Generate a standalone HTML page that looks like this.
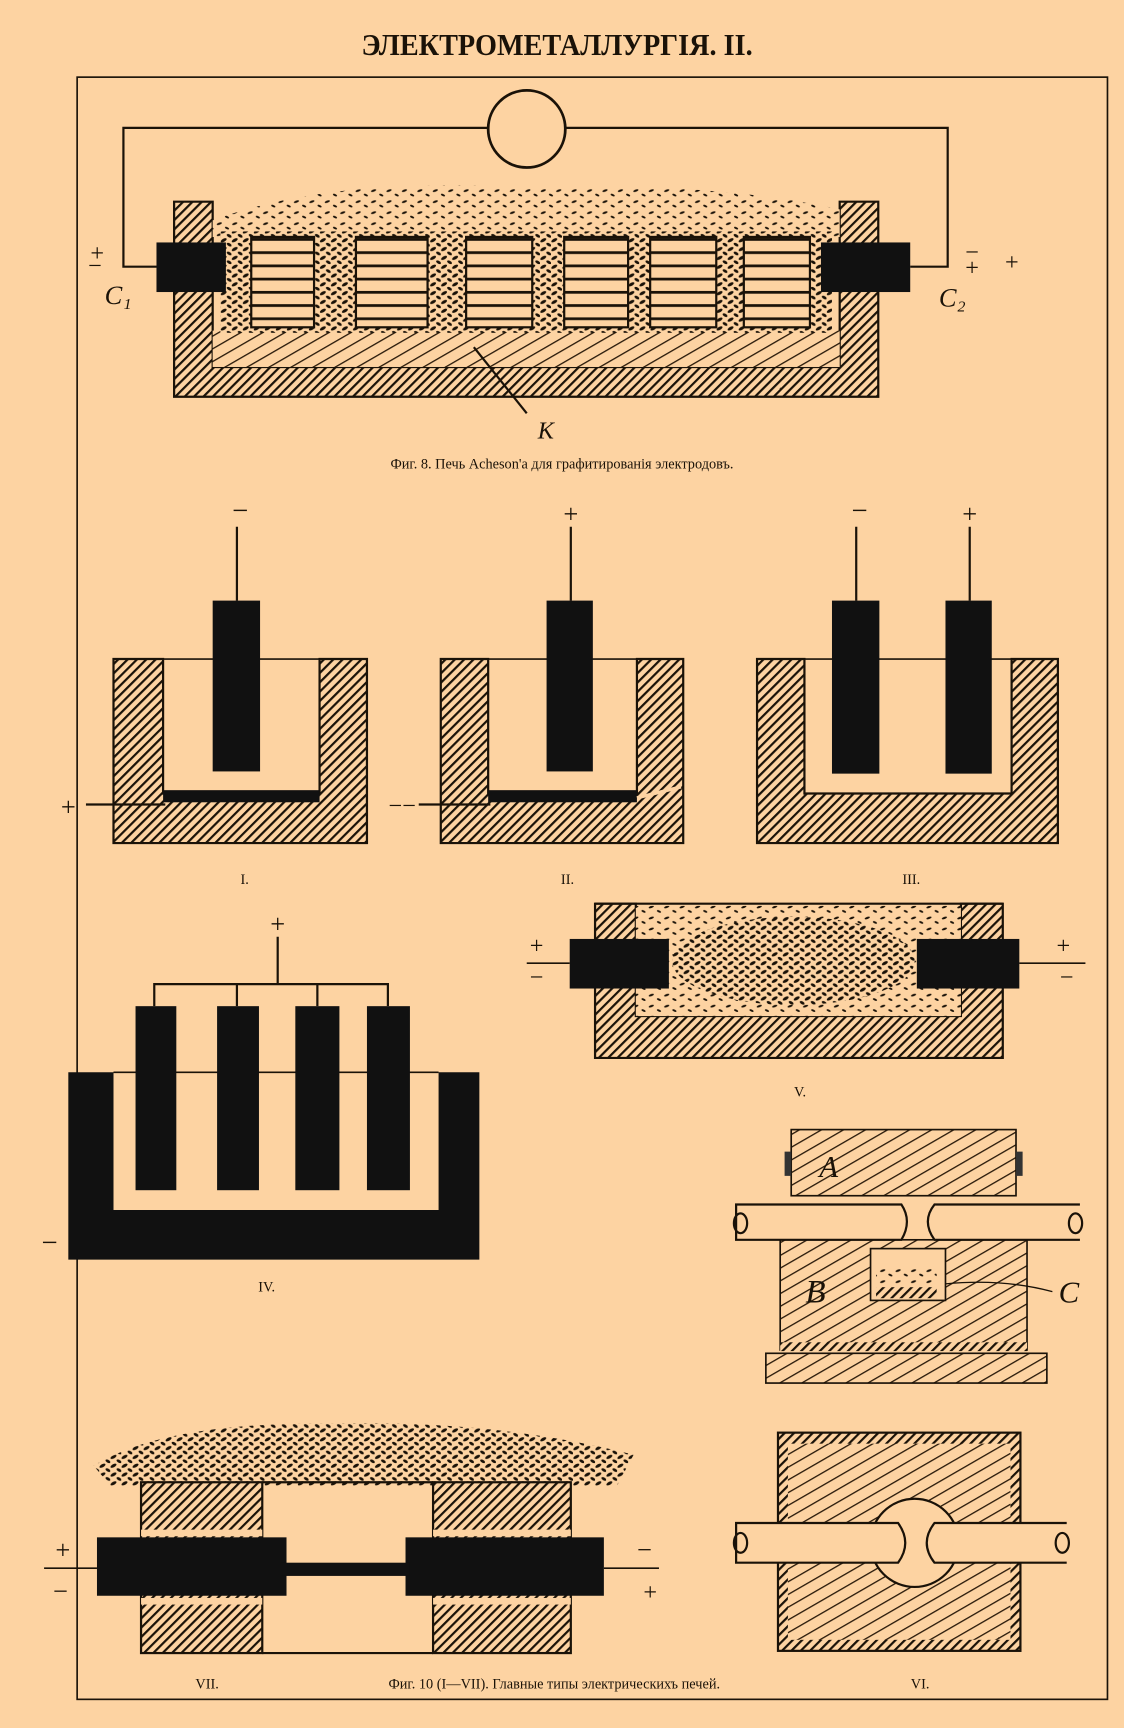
<!DOCTYPE html>
<html><head><meta charset="utf-8"><style>
html,body{margin:0;padding:0;background:#fdd3a2;}
svg{display:block;}
text{font-family:"Liberation Serif","DejaVu Serif",serif;fill:#1a1208;}
</style></head><body>
<svg width="1124" height="1728" viewBox="0 0 1020 1568" preserveAspectRatio="none" xmlns="http://www.w3.org/2000/svg">
<defs>
<pattern id="h" width="6" height="6" patternUnits="userSpaceOnUse" patternTransform="rotate(45)">
<rect width="6" height="6" fill="#fdd3a2"/><rect width="2" height="6" fill="#1a1208"/></pattern>
<pattern id="hl" width="10" height="10" patternUnits="userSpaceOnUse" patternTransform="rotate(60)">
<rect width="10" height="10" fill="#fdd3a2"/><rect width="1.2" height="10" fill="#2a1a0a"/></pattern>
<pattern id="st" width="10" height="12" patternUnits="userSpaceOnUse">
<rect width="10" height="12" fill="#fdd3a2"/><rect y="0" width="10" height="2.5" fill="#1a1208"/></pattern>
<pattern id="dots" width="14" height="10" patternUnits="userSpaceOnUse">
<rect width="14" height="10" fill="#fdd3a2"/><ellipse cx="3" cy="3" rx="2.5" ry="1" fill="#1a1208" transform="rotate(-20 3 3)"/><ellipse cx="10" cy="7" rx="2" ry="0.9" fill="#1a1208" transform="rotate(25 10 7)"/></pattern>
<pattern id="dense" width="10" height="8" patternUnits="userSpaceOnUse">
<rect width="10" height="8" fill="#fdd3a2"/><ellipse cx="3" cy="2" rx="3" ry="1.4" fill="#1a1208" transform="rotate(-30 3 2)"/><ellipse cx="8" cy="6" rx="2.5" ry="1.3" fill="#1a1208" transform="rotate(30 8 6)"/></pattern>
</defs>
<rect width="1020" height="1568" fill="#fdd3a2"/>
<text x="328" y="50" font-size="28" font-weight="bold" textLength="355" lengthAdjust="spacingAndGlyphs" font-family="Liberation Sans Narrow, Liberation Sans, sans-serif">ЭЛЕКТРОМЕТАЛЛУРГІЯ.  II.</text>
<rect x="70" y="70" width="935" height="1472" fill="none" stroke="#1a1208" stroke-width="1.5"/>

<!-- Fig 8 -->
<path d="M142 242 H112 V116 H443 M513 116 H860 V242 H826" fill="none" stroke="#1a1208" stroke-width="2"/>
<circle cx="478" cy="117" r="35" fill="#fdd3a2" stroke="#1a1208" stroke-width="2.5"/>
<path d="M158 183 H193 V333 H762 V183 H797 V360 H158 Z" fill="url(#h)" stroke="#1a1208" stroke-width="2"/>
<rect x="193" y="300" width="569" height="33" fill="url(#hl)"/>
<path d="M193 200 Q300 160 480 170 Q650 165 762 190 V215 H193 Z" fill="url(#dots)"/>
<rect x="200" y="210" width="555" height="92" fill="url(#dense)"/>
<g fill="url(#st)" stroke="#1a1208" stroke-width="2">
<rect x="228" y="215" width="57" height="82"/><rect x="323" y="215" width="65" height="82"/>
<rect x="423" y="215" width="60" height="82"/><rect x="512" y="215" width="58" height="82"/>
<rect x="590" y="215" width="60" height="82"/><rect x="675" y="215" width="60" height="82"/></g>
<rect x="142" y="220" width="63" height="45" fill="#111"/>
<rect x="745" y="220" width="81" height="45" fill="#111"/>
<path d="M430 315 L478 375" stroke="#1a1208" stroke-width="2"/>
<text x="488" y="398" font-size="22" font-style="italic">K</text>
<text x="82" y="237" font-size="22">+</text><text x="80" y="248" font-size="22">−</text>
<text x="95" y="276" font-size="24" font-style="italic">C₁</text>
<text x="876" y="250" font-size="22">+</text><text x="876" y="236" font-size="22">−</text>
<text x="912" y="245" font-size="22">+</text>
<text x="852" y="278" font-size="24" font-style="italic">C₂</text>
<text x="510" y="425" font-size="13" text-anchor="middle" font-family="Liberation Sans">Фиг. 8. Печь Acheson'a для графитированія электродовъ.</text>

<!-- I -->
<path d="M103 598 H148 V720 H290 V598 H333 V765 H103 Z" fill="url(#h)" stroke="#1a1208" stroke-width="2"/>
<rect x="148" y="717" width="142" height="11" fill="#111"/>
<line x1="78" y1="730" x2="150" y2="730" stroke="#1a1208" stroke-width="2"/>
<line x1="148" y1="598" x2="290" y2="598" stroke="#1a1208" stroke-width="1.5"/>
<rect x="193" y="545" width="43" height="155" fill="#111"/>
<line x1="215" y1="478" x2="215" y2="545" stroke="#1a1208" stroke-width="2"/>
<text x="218" y="472" font-size="26" text-anchor="middle">−</text>
<text x="62" y="740" font-size="24" text-anchor="middle">+</text>
<text x="222" y="802" font-size="13" text-anchor="middle">I.</text>
<!-- II -->
<path d="M400 598 H443 V720 H578 V598 H620 V765 H400 Z" fill="url(#h)" stroke="#1a1208" stroke-width="2"/>
<rect x="443" y="717" width="135" height="11" fill="#111"/>
<line x1="578" y1="724" x2="618" y2="714" stroke="#fdd3a2" stroke-width="3"/>
<line x1="380" y1="730" x2="445" y2="730" stroke="#1a1208" stroke-width="2"/>
<line x1="443" y1="598" x2="578" y2="598" stroke="#1a1208" stroke-width="1.5"/>
<rect x="496" y="545" width="42" height="155" fill="#111"/>
<line x1="518" y1="478" x2="518" y2="545" stroke="#1a1208" stroke-width="2"/>
<text x="518" y="474" font-size="24" text-anchor="middle">+</text>
<text x="365" y="738" font-size="22" text-anchor="middle">−−</text>
<text x="515" y="802" font-size="13" text-anchor="middle">II.</text>
<!-- III -->
<path d="M687 598 H730 V720 H918 V598 H960 V765 H687 Z" fill="url(#h)" stroke="#1a1208" stroke-width="2"/>
<line x1="730" y1="598" x2="918" y2="598" stroke="#1a1208" stroke-width="1.5"/>
<rect x="755" y="545" width="43" height="157" fill="#111"/>
<rect x="858" y="545" width="42" height="157" fill="#111"/>
<line x1="777" y1="478" x2="777" y2="545" stroke="#1a1208" stroke-width="2"/>
<line x1="880" y1="478" x2="880" y2="545" stroke="#1a1208" stroke-width="2"/>
<text x="780" y="472" font-size="26" text-anchor="middle">−</text>
<text x="880" y="474" font-size="24" text-anchor="middle">+</text>
<text x="827" y="802" font-size="13" text-anchor="middle">III.</text>

<!-- IV -->
<path d="M62 973 H103 V1098 H398 V973 H435 V1143 H62 Z" fill="#111"/>
<line x1="103" y1="973" x2="398" y2="973" stroke="#1a1208" stroke-width="1.5"/>
<path d="M140 913 V893 H352 V913 M215 893 V913 M288 893 V913 M252 893 V850" fill="none" stroke="#1a1208" stroke-width="2"/>
<rect x="123" y="913" width="37" height="167" fill="#111"/>
<rect x="197" y="913" width="38" height="167" fill="#111"/>
<rect x="268" y="913" width="40" height="167" fill="#111"/>
<rect x="333" y="913" width="39" height="167" fill="#111"/>
<text x="252" y="846" font-size="24" text-anchor="middle">+</text>
<text x="45" y="1136" font-size="26" text-anchor="middle">−</text>
<text x="242" y="1172" font-size="13" text-anchor="middle">IV.</text>

<!-- V -->
<path d="M540 820 H577 V922 H872 V820 H910 V960 H540 Z" fill="url(#h)" stroke="#1a1208" stroke-width="2"/>
<rect x="577" y="822" width="295" height="100" fill="url(#dots)"/>
<ellipse cx="720" cy="872" rx="110" ry="40" fill="url(#dense)"/>
<line x1="540" y1="820" x2="910" y2="820" stroke="#1a1208" stroke-width="2"/>
<rect x="517" y="852" width="90" height="45" fill="#111"/>
<rect x="832" y="852" width="93" height="45" fill="#111"/>
<line x1="478" y1="874" x2="517" y2="874" stroke="#1a1208" stroke-width="1.5"/>
<line x1="925" y1="874" x2="985" y2="874" stroke="#1a1208" stroke-width="1.5"/>
<text x="487" y="865" font-size="22" text-anchor="middle">+</text>
<text x="487" y="894" font-size="22" text-anchor="middle">−</text>
<text x="965" y="865" font-size="22" text-anchor="middle">+</text>
<text x="968" y="894" font-size="22" text-anchor="middle">−</text>
<text x="726" y="995" font-size="13" text-anchor="middle">V.</text>

<!-- VI top -->
<rect x="718" y="1025" width="204" height="60" fill="url(#hl)" stroke="#1a1208" stroke-width="1.5"/>
<rect x="712" y="1045" width="6" height="22" fill="#333"/><rect x="922" y="1045" width="6" height="22" fill="#333"/>
<rect x="708" y="1125" width="224" height="100" fill="url(#hl)" stroke="#1a1208" stroke-width="1.5"/>
<rect x="790" y="1133" width="68" height="47" fill="#fdd3a2" stroke="#1a1208" stroke-width="1.5"/>
<rect x="795" y="1150" width="55" height="15" fill="url(#dots)"/>
<rect x="795" y="1168" width="55" height="10" fill="url(#h)"/>
<rect x="695" y="1228" width="255" height="27" fill="url(#hl)" stroke="#1a1208" stroke-width="1.5"/>
<rect x="708" y="1218" width="224" height="8" fill="url(#h)"/>
<path d="M668 1093 H818 Q828 1108 818 1125 H668 Z" fill="#fdd3a2" stroke="#1a1208" stroke-width="2"/>
<path d="M980 1093 H848 Q836 1108 848 1125 H980" fill="#fdd3a2" stroke="#1a1208" stroke-width="2"/>
<ellipse cx="672" cy="1110" rx="6" ry="9" fill="none" stroke="#1a1208" stroke-width="2"/>
<ellipse cx="976" cy="1110" rx="6" ry="9" fill="none" stroke="#1a1208" stroke-width="2"/>
<path d="M858 1165 Q910 1160 955 1172" fill="none" stroke="#1a1208" stroke-width="1.2"/>
<text x="752" y="1068" font-size="28" font-style="italic" text-anchor="middle">A</text>
<text x="740" y="1182" font-size="30" font-style="italic" text-anchor="middle">B</text>
<text x="970" y="1182" font-size="28" font-style="italic" text-anchor="middle">C</text>
<!-- VI bottom -->
<rect x="706" y="1300" width="220" height="198" fill="url(#h)" stroke="#1a1208" stroke-width="2"/>
<rect x="715" y="1310" width="202" height="178" fill="url(#hl)"/>
<circle cx="830" cy="1400" r="40" fill="#fdd3a2" stroke="#1a1208" stroke-width="2"/>
<path d="M668 1382 H815 Q828 1400 815 1418 H668 Z" fill="#fdd3a2" stroke="#1a1208" stroke-width="2"/>
<path d="M968 1382 H848 Q834 1400 848 1418 H968" fill="#fdd3a2" stroke="#1a1208" stroke-width="2"/>
<ellipse cx="672" cy="1400" rx="6" ry="9" fill="none" stroke="#1a1208" stroke-width="2"/>
<ellipse cx="964" cy="1400" rx="6" ry="9" fill="none" stroke="#1a1208" stroke-width="2"/>
<text x="835" y="1532" font-size="13" text-anchor="middle">VI.</text>

<!-- VII -->
<path d="M85 1330 Q150 1290 300 1292 Q450 1288 575 1320 L560 1348 H100 Z" fill="url(#dense)"/>
<rect x="128" y="1345" width="110" height="155" fill="url(#h)" stroke="#1a1208" stroke-width="2"/>
<rect x="393" y="1345" width="125" height="155" fill="url(#h)" stroke="#1a1208" stroke-width="2"/>
<line x1="238" y1="1345" x2="393" y2="1345" stroke="#1a1208" stroke-width="2"/>
<line x1="238" y1="1500" x2="393" y2="1500" stroke="#1a1208" stroke-width="2"/>
<rect x="128" y="1388" width="110" height="6" fill="#fdd3a2"/><rect x="393" y="1388" width="125" height="6" fill="#fdd3a2"/>
<rect x="128" y="1450" width="110" height="6" fill="#fdd3a2"/><rect x="393" y="1450" width="125" height="6" fill="#fdd3a2"/>
<rect x="88" y="1395" width="172" height="53" fill="#111"/>
<rect x="368" y="1395" width="180" height="53" fill="#111"/>
<rect x="255" y="1418" width="117" height="12" fill="#111"/>
<line x1="40" y1="1423" x2="88" y2="1423" stroke="#1a1208" stroke-width="1.5"/>
<line x1="548" y1="1423" x2="598" y2="1423" stroke="#1a1208" stroke-width="1.5"/>
<text x="57" y="1414" font-size="24" text-anchor="middle">+</text>
<text x="55" y="1452" font-size="24" text-anchor="middle">−</text>
<text x="585" y="1414" font-size="24" text-anchor="middle">−</text>
<text x="590" y="1452" font-size="22" text-anchor="middle">+</text>
<text x="188" y="1532" font-size="13" text-anchor="middle">VII.</text>
<text x="503" y="1532" font-size="13" text-anchor="middle" font-family="Liberation Sans">Фиг. 10 (I—VII). Главные типы электрическихъ печей.</text>
</svg>
</body></html>
